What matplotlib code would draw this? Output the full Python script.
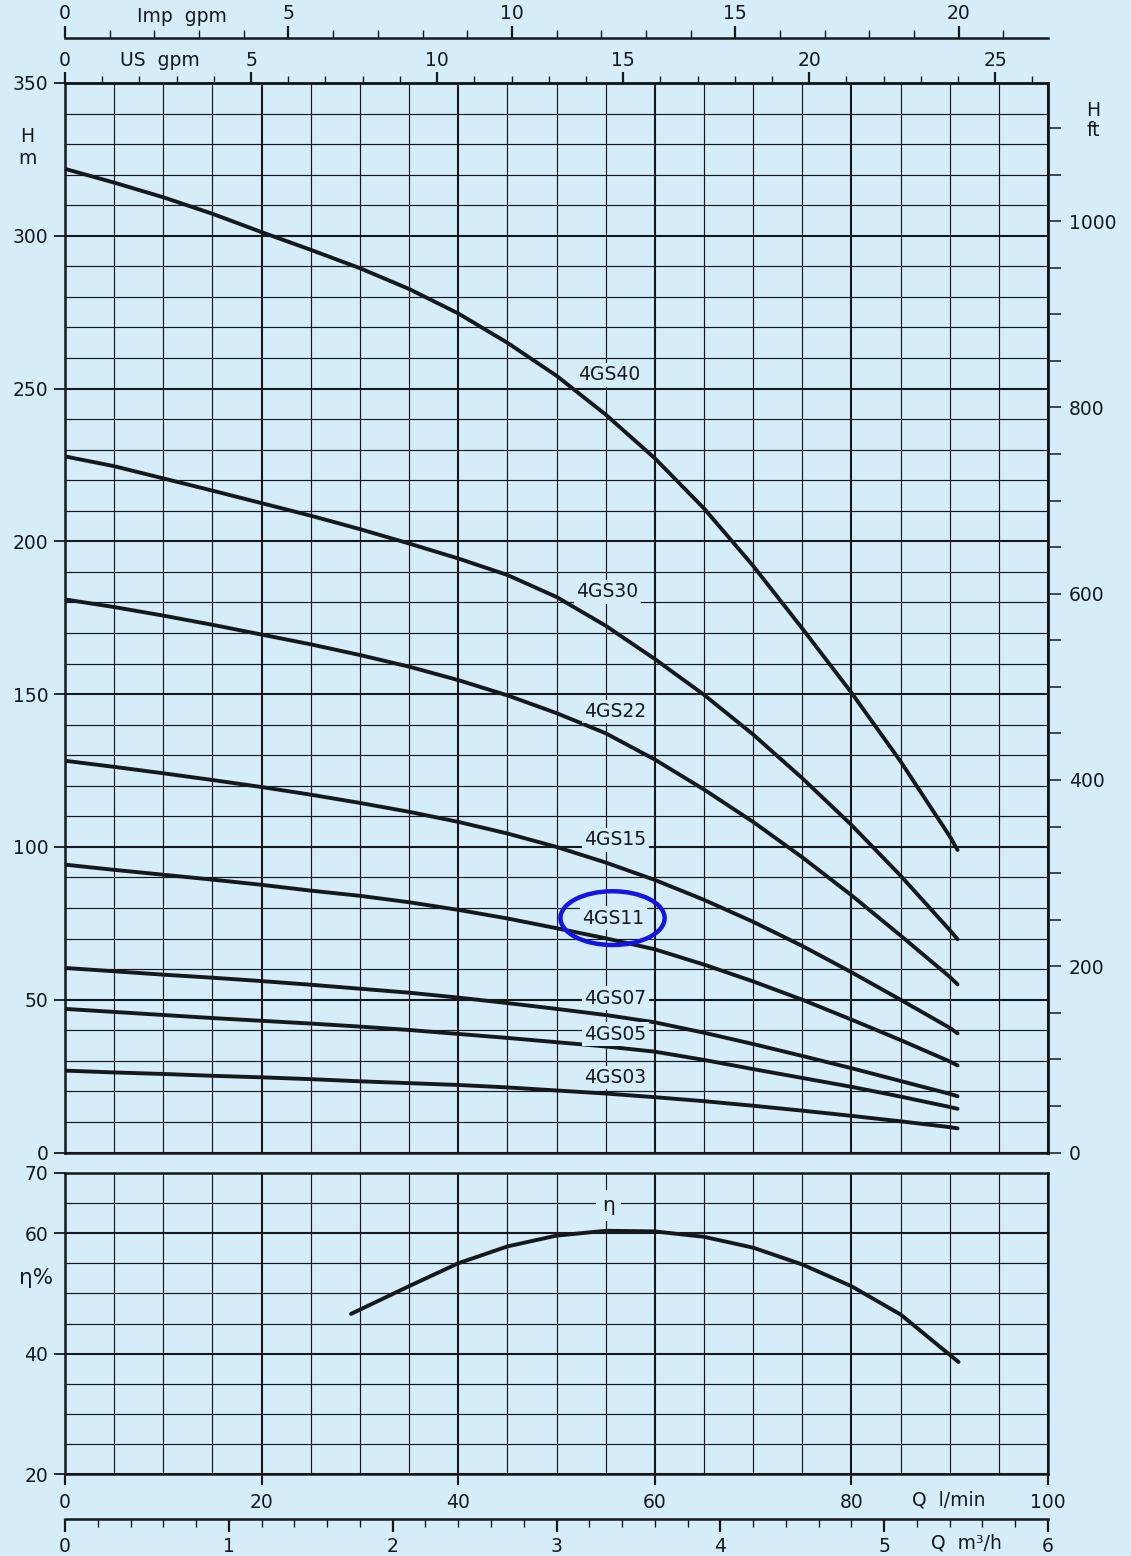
import numpy as np
import matplotlib
matplotlib.use('Agg')
import matplotlib.pyplot as plt
from matplotlib.patches import Ellipse
from matplotlib.ticker import FixedLocator, FuncFormatter

# flow (l/min) where the head curves were read
Q_HEAD = [0, 5, 10, 15, 20, 25, 30, 35, 40, 45, 50, 55, 60, 65, 70, 75, 80, 85, 90, 90.8]

H_4GS40 = [321.9, 317.4, 312.6, 307.2, 301.2, 295.4, 289.4, 282.6, 274.6, 265.0, 254.2,
           241.5, 227.2, 210.8, 192.0, 171.5, 150.5, 128.0, 103.5, 99.0]
H_4GS30 = [227.8, 224.6, 220.6, 216.6, 212.5, 208.4, 204.0, 199.3, 194.4, 189.0, 181.8,
           172.4, 161.5, 149.8, 136.8, 122.5, 107.2, 90.6, 72.8, 69.8]
H_4GS22 = [181.0, 178.5, 175.7, 172.7, 169.5, 166.3, 162.8, 159.0, 154.6, 149.6, 143.8,
           137.2, 128.6, 118.8, 108.2, 96.6, 84.2, 71.0, 57.5, 55.0]
H_4GS15 = [128.2, 126.2, 124.1, 121.9, 119.6, 117.1, 114.4, 111.5, 108.2, 104.4, 100.0,
           94.9, 89.2, 82.7, 75.5, 67.6, 59.0, 50.0, 40.8, 39.0]
H_4GS11 = [94.2, 92.5, 90.9, 89.3, 87.6, 85.7, 84.0, 81.9, 79.4, 76.6, 73.4,
           70.1, 66.5, 61.5, 56.0, 50.0, 43.5, 36.8, 29.8, 28.5]
H_4GS07 = [60.4, 59.3, 58.2, 57.2, 56.1, 54.9, 53.6, 52.3, 50.7, 48.9, 47.0,
           45.0, 42.6, 39.2, 35.5, 31.6, 27.6, 23.4, 19.2, 18.4]
H_4GS05 = [47.0, 46.0, 45.0, 44.0, 43.1, 42.2, 41.2, 40.1, 38.8, 37.5, 36.1,
           34.7, 33.0, 30.3, 27.3, 24.4, 21.5, 18.3, 14.9, 14.3]
H_4GS03 = [26.8, 26.2, 25.7, 25.1, 24.6, 24.0, 23.3, 22.7, 22.1, 21.3, 20.3,
           19.3, 18.1, 16.8, 15.3, 13.7, 12.0, 10.2, 8.3, 7.9]

MODELS = ['4GS40', '4GS30', '4GS22', '4GS15', '4GS11', '4GS07', '4GS05', '4GS03']
HEADS = [H_4GS40, H_4GS30, H_4GS22, H_4GS15, H_4GS11, H_4GS07, H_4GS05, H_4GS03]

# efficiency curve
Q_EFF = [29.1, 35, 40, 45, 50, 55, 60, 65, 70, 75, 80, 85, 90.9]
ETA = [46.6, 51.2, 55.0, 57.8, 59.6, 60.4, 60.3, 59.4, 57.6, 54.8, 51.2, 46.5, 38.6]

# label anchor points (Q l/min, H m)
LABEL_POS = [(55.4, 254.5), (55.2, 183.5), (56.0, 144.3), (56.0, 102.3),
             (55.8, 76.7), (56.0, 50.5), (56.0, 38.7), (56.0, 24.6)]

LPM_PER_USGPM = 3.785411784
LPM_PER_IMPGPM = 4.54609
LPM_PER_M3H = 1000 / 60
M_PER_FT = 0.3048

BG = '#d5ecf9'
INK = '#16191c'
FS = 13.5

W_PX, H_PX = 1131, 1556
fig = plt.figure(figsize=(W_PX / 100, H_PX / 100), dpi=100)
fig.patch.set_facecolor(BG)
plt.rcParams['font.family'] = ['DejaVu Sans']


def fx(x):
    return x / W_PX


def fy(y):
    return 1 - y / H_PX


X0, X1 = 65, 1048
L, WD = fx(X0), (X1 - X0) / W_PX


def style_grid(ax):
    ax.set_facecolor(BG)
    ax.grid(which='major', color=INK, lw=1.5, zorder=1)
    ax.grid(which='minor', color=INK, lw=0.85, zorder=1)
    ax.set_axisbelow(True)
    for s in ax.spines.values():
        s.set_color(INK)
        s.set_linewidth(1.8)


# ---------------- head panel ----------------
ax = fig.add_axes([L, fy(1152.5), WD, (1152.5 - 83) / H_PX])
ax.set_xlim(0, 100)
ax.set_ylim(0, 350)
ax.set_xticks(np.arange(0, 101, 20))
ax.set_xticks(np.arange(0, 101, 5), minor=True)
ax.set_yticks(np.arange(0, 351, 50))
ax.set_yticks(np.arange(0, 351, 10), minor=True)
style_grid(ax)
ax.tick_params(axis='x', which='both', length=0, labelbottom=False)
ax.tick_params(axis='y', which='major', direction='out', length=8, width=1.3,
               color=INK, labelsize=FS, pad=4, labelcolor=INK)
ax.tick_params(axis='y', which='minor', length=0)

for name, h, (lx, ly) in zip(MODELS, HEADS, LABEL_POS):
    ax.plot(Q_HEAD, h, color=INK, lw=2.8, solid_capstyle='round',
            solid_joinstyle='round', zorder=3)
    ax.text(lx, ly, name, ha='center', va='center', fontsize=FS, color=INK, zorder=4,
            bbox=dict(boxstyle='square,pad=0.12', fc=BG, ec='none'))

ax.add_patch(Ellipse((55.7, 76.7), 10.6, 17.6, fill=False, ec='#1414e6', lw=3.2, zorder=5))

# US gpm on top
sec_us = ax.secondary_xaxis('top', functions=(lambda q: q / LPM_PER_USGPM,
                                              lambda g: g * LPM_PER_USGPM))
sec_us.xaxis.set_major_locator(FixedLocator(np.arange(0, 26, 5)))
sec_us.xaxis.set_minor_locator(FixedLocator(np.arange(0, 27, 1)))
sec_us.tick_params(which='major', direction='out', length=8, width=1.6, color=INK,
                   labelsize=FS, pad=1, labelcolor=INK)
sec_us.tick_params(which='minor', direction='out', length=5, width=1.0, color=INK)
sec_us.spines['top'].set_linewidth(1.8)
sec_us.spines['top'].set_color(INK)

# feet on the right
sec_ft = ax.secondary_yaxis('right', functions=(lambda m: m / M_PER_FT,
                                                lambda f: f * M_PER_FT))
sec_ft.yaxis.set_major_locator(FixedLocator(np.arange(0, 1101, 50)))
sec_ft.yaxis.set_major_formatter(FuncFormatter(
    lambda v, p: f'{int(round(v))}' if int(round(v)) % 200 == 0 else ''))
sec_ft.tick_params(direction='out', length=9, width=1.1, color=INK,
                   labelsize=FS, pad=6, labelcolor=INK)
sec_ft.spines['right'].set_linewidth(1.8)
sec_ft.spines['right'].set_color(INK)

# ---------------- efficiency panel ----------------
ae = fig.add_axes([L, fy(1474), WD, (1474 - 1173) / H_PX])
ae.set_xlim(0, 100)
ae.set_ylim(20, 70)
ae.set_xticks(np.arange(0, 101, 20))
ae.set_xticks(np.arange(0, 101, 5), minor=True)
ae.set_yticks([20, 40, 60, 70])
ae.set_yticks(np.arange(20, 71, 5), minor=True)
style_grid(ae)
ae.tick_params(axis='x', which='major', direction='out', length=8, width=1.5,
               color=INK, labelsize=FS, pad=6, labelcolor=INK)
ae.tick_params(axis='y', which='major', direction='out', length=8, width=1.3,
               color=INK, labelsize=FS, pad=4, labelcolor=INK)
ae.tick_params(which='minor', length=0)
ae.plot(Q_EFF, ETA, color=INK, lw=2.8, solid_capstyle='round',
        solid_joinstyle='round', zorder=3)
ae.text(55.3, 64.6, 'η', ha='center', va='center', fontsize=FS + 1, color=INK, zorder=4,
        bbox=dict(boxstyle='square,pad=0.3', fc=BG, ec='none'))

# ---------------- Imp gpm scale ----------------
ai = fig.add_axes([L, fy(38) - 0.002, WD, 0.002])
ai.set_xlim(0, 100 / LPM_PER_IMPGPM)
ai.set_facecolor('none')
for k, s in ai.spines.items():
    s.set_visible(k == 'top')
ai.spines['top'].set_linewidth(1.8)
ai.spines['top'].set_color(INK)
ai.set_yticks([])
ai.xaxis.set_ticks_position('top')
ai.xaxis.set_label_position('top')
ai.xaxis.set_major_locator(FixedLocator(np.arange(0, 21, 5)))
ai.xaxis.set_minor_locator(FixedLocator(np.arange(0, 23, 1)))
ai.tick_params(which='major', direction='out', length=9, width=1.6, color=INK,
               labelsize=FS, pad=2, labelcolor=INK)
ai.tick_params(which='minor', direction='out', length=6, width=1.0, color=INK)

# ---------------- m3/h scale ----------------
am = fig.add_axes([L, fy(1519), WD, 0.002])
am.set_xlim(0, 100 / LPM_PER_M3H)
am.set_facecolor('none')
for k, s in am.spines.items():
    s.set_visible(k == 'bottom')
am.spines['bottom'].set_linewidth(1.8)
am.spines['bottom'].set_color(INK)
am.set_yticks([])
am.xaxis.set_major_locator(FixedLocator(np.arange(0, 7, 1)))
am.xaxis.set_minor_locator(FixedLocator(np.arange(0, 6.01, 0.2)))
am.tick_params(which='major', direction='out', length=9, width=1.6, color=INK,
               labelsize=FS, pad=4, labelcolor=INK)
am.tick_params(which='minor', direction='out', length=6, width=1.0, color=INK)

# ---------------- unit labels ----------------
txt = dict(fontsize=FS, color=INK, ha='center', va='center')
fig.text(fx(182), fy(17), 'Imp  gpm', **txt)
fig.text(fx(160), fy(61), 'US  gpm', **txt)
fig.text(fx(27), fy(137), 'H', **txt)
fig.text(fx(27), fy(159), 'm', **txt)
fig.text(fx(1093), fy(110), 'H', **txt)
fig.text(fx(1093), fy(130), 'ft', **txt)
fig.text(fx(36), fy(1278), 'η%', fontsize=FS + 2, color=INK, ha='center', va='center')
fig.text(fx(949), fy(1500), 'Q  l/min', **txt)
fig.text(fx(966), fy(1543), 'Q  m³/h', **txt)

fig.savefig('out.png', dpi=100, facecolor=BG)
